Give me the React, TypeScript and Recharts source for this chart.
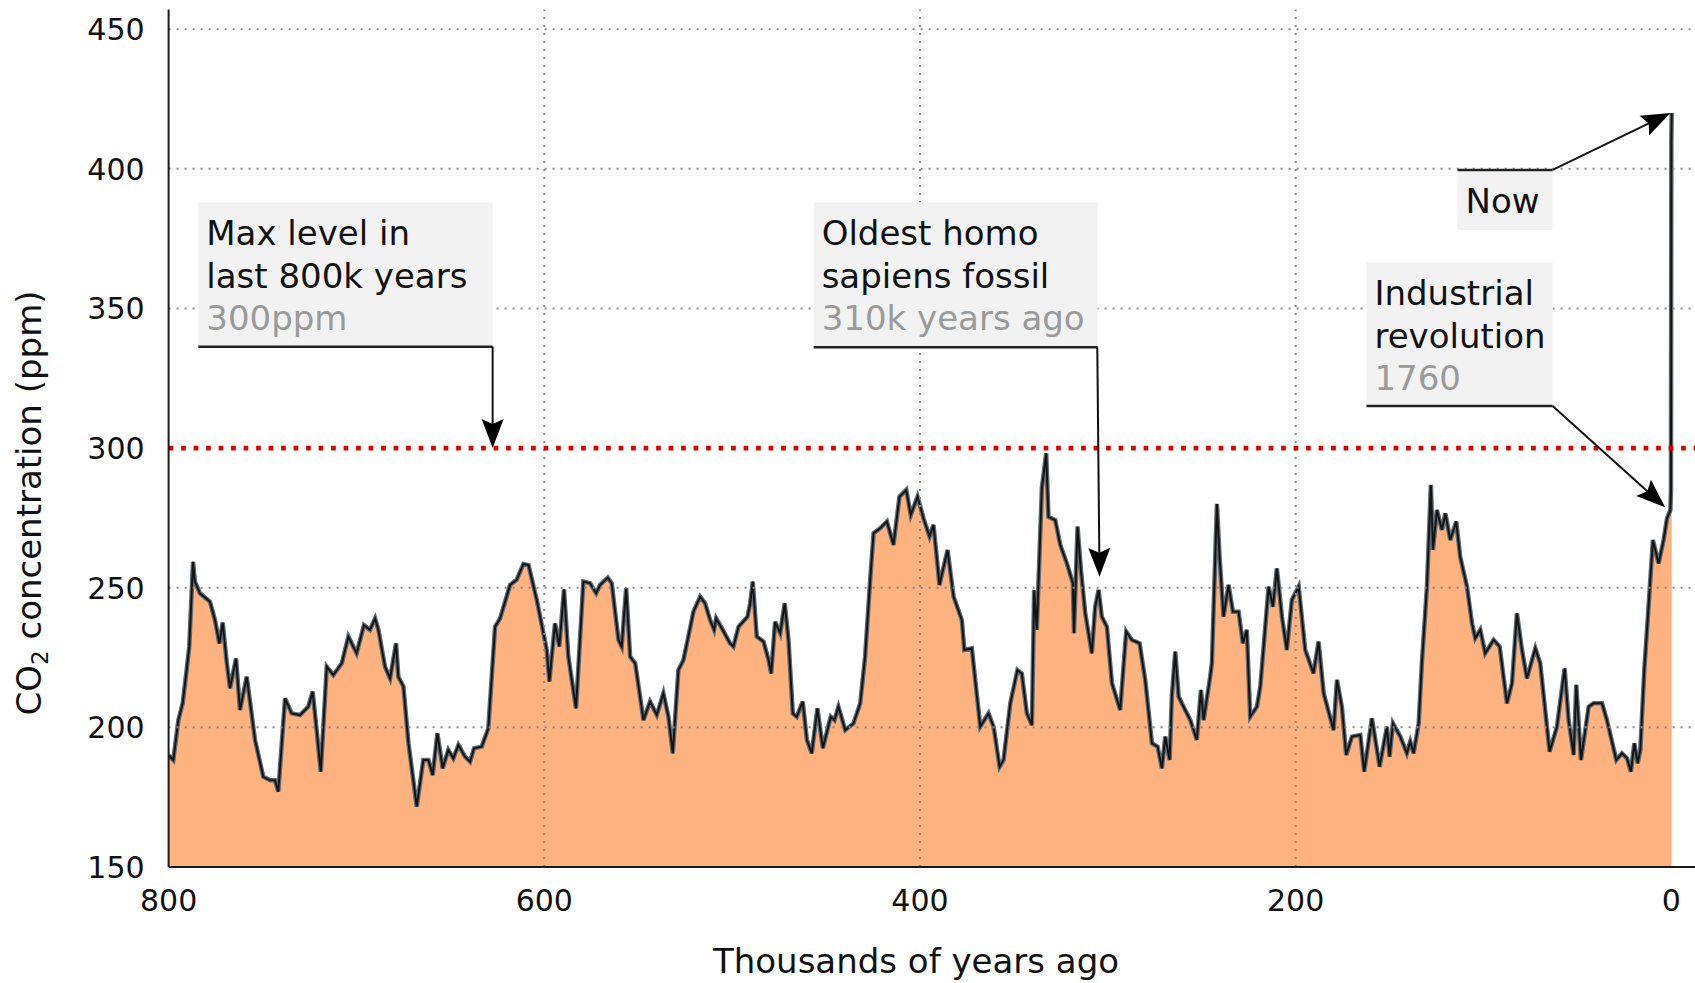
import React from 'react';
import { ComposedChart, Area, Line, XAxis, YAxis, ReferenceLine } from 'recharts';

// thousands of years ago
const kyaValues = [
  800, 797.5, 794.8, 792.5, 790.4, 789, 787, 786, 783.3, 778, 775.3, 773, 771.2, 769, 767.3, 764.1, 762, 758.4, 754,
  749.6, 746, 743.4, 741.6, 738, 734.5, 730, 725.6, 723.3, 721.2, 719, 715.8, 712.3, 707.8, 704.3, 699.9, 696, 692.8,
  690.1, 688.3, 684.8, 682.1, 678.9, 677.7, 675, 672.3, 667.9, 664.4, 661.7, 659.4, 656.9, 654.1, 651.1, 648.4, 645.7,
  642.2, 639.5, 637.4, 633.3, 629.8, 626.2, 623.5, 618.2, 614.7, 611.1, 608.4, 604, 598.7, 597.3, 594.3, 592, 589.5,
  587.2, 583.1, 579.2, 575.6, 572.4, 570.3, 566.2, 564.1, 560.5, 558.8, 556.4, 554.3, 551.6, 547.2, 543.7, 540.1,
  536.6, 533.9, 531.6, 528.6, 525.9, 523.3, 520.6, 517, 514.4, 511.7, 509.6, 508.5, 505.5, 501.1, 499.3, 496.6, 491.8,
  490.4, 489, 486.9, 483.3, 480.6, 479.2, 477.1, 474.4, 472, 470, 467.7, 465.6, 462.4, 460.2, 457.6, 454.6, 451.7,
  447.5, 445.5, 443.4, 439.8, 435.4, 431.8, 429.2, 426.5, 424.7, 421.2, 417.6, 414.1, 410.9, 407.3, 404.9, 401.3,
  398.1, 394.9, 392.8, 389.6, 387.8, 385.3, 382.1, 377.7, 376.4, 372.4, 367.9, 363.5, 360.8, 357.6, 355.5, 351.9,
  348.1, 345.8, 343.1, 340.4, 339.2, 337.8, 335.1, 332.8, 331.6, 328, 325.3, 321.8, 318.6, 318, 316.1, 314.3, 312,
  308.5, 306.7, 304.9, 303.2, 300.5, 297.8, 293.4, 290.2, 287.2, 283.1, 280.1, 276.5, 273.5, 271.2, 269.4,
  267.1, 265.9, 264.1, 262.3, 259.7, 256.1, 252.6, 250.4, 249, 245.5, 244.6, 241.9, 240.5, 238.4, 235.7, 233.4,
  230.4, 228.1, 226, 224.2, 220.6, 218.8, 214.4, 212.1, 210, 207.3, 204.7, 202, 198.4, 194.9, 190.5, 187.8, 185.1,
  179.8, 178, 175.4, 173.1, 170, 165.6, 163.5, 159.4, 155.3, 151.4, 150, 148.2, 144.3, 140.8, 139, 137.2, 134.5,
  132.8, 130.1, 128, 126.9, 124.8, 122.1, 120.3, 117.7, 114.5, 112.4, 108.8, 106.1, 104.4, 101.7, 99.1, 94.6, 91.4,
  87.5, 84.8, 82.2, 79.5, 76.9, 72.4, 69.8, 64.8, 60.9, 56.8, 54.7, 52, 50.6, 48.1, 44, 41.4, 36.9, 34.3, 29.3, 26.3,
  23.6, 21.5, 19.7, 17.9, 16.5, 14.4, 12.6, 9.8, 6.8, 4.1, 2.3, 0.5, 0.2, 0, -0.2,
];

// CO2 concentration (ppm)
const ppmValues = [
  190, 188.3, 202.6, 208.6, 220.5, 228.9, 259.3, 252.2, 248, 245, 238.4, 230, 237.5, 222.9, 214, 224.7, 206.2, 218.1, 195.5,
  182.3, 181.1, 181.1, 177, 210.4, 205, 204.4, 207.4, 212.8, 199, 184.1, 221.7, 218.7, 222.9, 232.5, 226.5, 236.6, 234.9,
  239, 234.9, 221.7, 217.5, 230.1, 218.1, 214.6, 194.3, 171.6, 188.3, 188.3, 182.9, 197.9, 185.3, 191.9, 188.9, 193.7,
  189.5, 187.7, 192.5, 193.1, 199.6, 236, 239, 251, 252.8, 258.5, 258.1, 245.6, 227.7, 216.4, 237.2, 228.9, 249.4,
  225.3, 206.8, 252.2, 251.6, 248, 251, 253.6, 251.6, 231.3, 228.9, 249.8, 225.3, 222.9, 202.6, 209.2, 204.4,
  212.2, 203.8, 190.7, 220.5, 224.1, 232.5, 241.4, 246.8, 244.4, 238.4, 234.9, 239, 235.5, 230.1, 228.9, 236, 239.6,
  244.4, 252.2, 232.5, 230.7, 224.1, 219.3, 237.8, 233.7, 244.4, 231.3, 205, 203.8, 209.2, 195.5, 190.7, 206.8, 192.5,
  203.8, 202.6, 207.4, 199, 201.4, 208.6, 225.3, 252.8, 269.5, 271.3, 273.7, 265.3, 282.6, 285, 276, 282.6,
  274.8, 268.3, 272.5, 251, 256.3, 263.5, 246.8, 238.4, 227.7, 228.3, 200.2, 205, 200.2, 185.9, 188.3, 208.6,
  220.5, 219.3, 205, 200.8, 249.2, 234.9, 285.6, 298.1, 275.4, 274.2, 265.3, 258.7, 251.6, 233.7, 271.9, 256.3, 240.8,
  226.5, 243.2, 249.2, 239.6, 236, 215.8, 206.2, 234.3, 231.3, 230.1, 217, 194.3, 193.1, 185.3, 196.7,
  188.3, 211, 227.1, 211, 207.4, 202.6, 195.5, 213.4, 202.6, 218.1, 222.9, 280, 261.1, 239.6, 251, 241.4,
  241.4, 230.1, 234.9, 203.8, 207.4, 214.6, 250.4, 243.2, 256.9, 239.6, 227.7, 245.6, 250.4, 227.7, 219.3, 230.7, 212.2,
  199, 217, 207.4, 190.1, 196.7, 197.3, 184.1, 203.2, 185.9, 200.2, 189.5, 201.4, 196.7, 190.7, 194.9, 190.7, 201.4,
  222.9, 250.4, 286.8, 263.5, 277.8, 270.7, 276.6, 267.1, 273.7, 261.1, 250.4, 237.2, 231.9, 234.9, 226.5, 231.3, 228.9,
  208.6, 215.8, 240.8, 227.7, 217.5, 228.3, 222.9, 191.3, 200.2, 221.1, 202.6, 190.1, 215.2, 188.3, 207.4, 208.6, 208.6, 202.6, 188.3, 190.7,
  188.9, 184.1, 194.3, 187.1, 191.9, 220.5, 238.4, 267.1, 258.7, 267.1, 274.8, 277.8, 285, 410, 420,
];

const xTicks = [800, 600, 400, 200, 0];
const yTicks = [150, 200, 250, 300, 350, 400, 450];
const horizontalGrid = [200, 250, 350, 400, 450];
const verticalGrid = [600, 400, 200];
const maxLevel = 300;

// annotation boxes: [left kya, top ppm, right kya, bottom ppm]
const annotationLines = [
  ['Max level in', 'last 800k years'],
  ['Oldest homo', 'sapiens fossil'],
  ['Now'],
  ['Industrial', 'revolution'],
];
const annotationSubs = ['300ppm', '310k years ago', '', '1760'];
const annotationBoxes = [
  [784.2, 388, 627.5, 336.3],
  [456.6, 388, 305.4, 336.1],
  [113.8, 399.6, 63.2, 378.1],
  [162.3, 366.5, 63.2, 315.1],
];
// rule under (or over) each box: [x1, y1, x2, y2]
const annotationRules = [
  [784.2, 336.3, 627.5, 336.3],
  [456.6, 336.1, 305.4, 336.1],
  [113.8, 399.6, 63.2, 399.6],
  [162.3, 315.1, 63.2, 315.1],
];
// arrows: [fromX, fromY, toX, toY]
const annotationArrows = [
  [627.5, 336.3, 627.5, 300],
  [305.6, 336.1, 304.4, 253.9],
  [63.2, 399.6, 0.5, 420],
  [63.2, 315.1, 3.3, 278.8],
];

const data = kyaValues.map((k, i) => ({ kya: k, ppm: ppmValues[i] }));

const FONT = '"DejaVu Sans", "Liberation Sans", sans-serif';

const XTick = (props: any) => {
  const { x, y, payload } = props;
  return (
    <text x={x} y={y + 44} textAnchor="middle" fontSize={30} fontFamily={FONT} fill="#111">
      {payload.value}
    </text>
  );
};

const YTick = (props: any) => {
  const { x, y, payload } = props;
  return (
    <text x={x - 24} y={y + 11} textAnchor="end" fontSize={30} fontFamily={FONT} fill="#111">
      {payload.value}
    </text>
  );
};

const XTitle = (props: any) => {
  const vb = props.viewBox || { x: 168.6, y: 867, width: 1526.4 };
  return (
    <text x={vb.x + 747.4} y={vb.y + 106} textAnchor="middle" fontSize={34} fontFamily={FONT} fill="#111">
      Thousands of years ago
    </text>
  );
};

const YTitle = (props: any) => {
  const vb = props.viewBox || { x: 108.6, y: 9.6, width: 60, height: 857.4 };
  const cx = vb.x + vb.width - 127.6;
  const cy = vb.y + vb.height / 2 + 64.7;
  return (
    <text
      x={cx}
      y={cy}
      textAnchor="middle"
      fontSize={34}
      fontFamily={FONT}
      fill="#111"
      transform={`rotate(-90, ${cx}, ${cy})`}
    >
      CO
      <tspan fontSize={23} dy={7}>2</tspan>
      <tspan dy={-7}> concentration (ppm)</tspan>
    </text>
  );
};

const makeBoxShape = (idx: number) => (p: any) => {
  const left = Math.min(p.x1, p.x2);
  const top = Math.min(p.y1, p.y2);
  const w = Math.abs(p.x2 - p.x1);
  const h = Math.abs(p.y2 - p.y1);
  const lines = annotationLines[idx];
  const sub = annotationSubs[idx];
  return (
    <g>
      <rect x={left} y={top} width={w} height={h} fill="#f2f2f2" />
      {lines.map((t, i) => (
        <text key={i} x={left + 8} y={top + 43 + i * 42.5} fontSize={34} fontFamily={FONT} fill="#111">
          {t}
        </text>
      ))}
      {sub ? (
        <text x={left + 8} y={top + 43 + lines.length * 42.5} fontSize={34} fontFamily={FONT} fill="#9a9a9a">
          {sub}
        </text>
      ) : null}
    </g>
  );
};

const arrowShape = (p: any) => {
  const { x1, y1, x2, y2 } = p;
  const dx = x2 - x1;
  const dy = y2 - y1;
  const len = Math.hypot(dx, dy) || 1;
  const ux = dx / len;
  const uy = dy / len;
  const L = 29;
  const W = 11;
  const notch = 5;
  const bx = x2 - ux * L;
  const by = y2 - uy * L;
  const nx = -uy;
  const ny = ux;
  const mx = x2 - ux * (L - notch);
  const my = y2 - uy * (L - notch);
  const pts = `${x2},${y2} ${bx + nx * W},${by + ny * W} ${mx},${my} ${bx - nx * W},${by - ny * W}`;
  return (
    <g>
      <line x1={x1} y1={y1} x2={mx} y2={my} stroke="#111" strokeWidth={2} />
      <polygon points={pts} fill="#000" />
    </g>
  );
};

export default function App() {
  return (
    <div style={{ position: 'absolute', left: 0, top: 0, width: 1695, height: 983, background: '#fff' }}>
      <ComposedChart
        width={1695}
        height={983}
        data={data}
        margin={{ top: 9.6, right: 0, bottom: 66, left: 108.6 }}
      >
        <XAxis
          dataKey="kya"
          type="number"
          domain={[-12.6, 800]}
          reversed
          allowDataOverflow
          ticks={xTicks}
          interval={0}
          tickLine={false}
          tickSize={0}
          tickMargin={0}
          height={50}
          axisLine={{ stroke: '#1a1a1a', strokeWidth: 2 }}
          tick={XTick}
          label={{ content: XTitle }}
        />
        <YAxis
          type="number"
          domain={[150, 457]}
          allowDataOverflow
          ticks={yTicks}
          interval={0}
          tickLine={false}
          tickSize={0}
          tickMargin={0}
          width={60}
          axisLine={{ stroke: '#1a1a1a', strokeWidth: 2 }}
          tick={YTick}
          label={{ content: YTitle }}
        />
        <Area
          type="linear"
          dataKey="ppm"
          fill="#fdb27f"
          fillOpacity={1}
          stroke="#5f6b75"
          strokeWidth={4.5}
          dot={false}
          activeDot={false}
          isAnimationActive={false}
        />
        <Line
          type="linear"
          dataKey="ppm"
          stroke="#141414"
          strokeWidth={2}
          dot={false}
          activeDot={false}
          isAnimationActive={false}
        />
        {horizontalGrid.map((v) => (
          <ReferenceLine key={`h${v}`} y={v} stroke="#888" strokeWidth={2} strokeDasharray="2 6" />
        ))}
        {verticalGrid.map((v) => (
          <ReferenceLine key={`v${v}`} x={v} stroke="#888" strokeWidth={2} strokeDasharray="2 6" />
        ))}
        <ReferenceLine y={maxLevel} stroke="#dd0000" strokeWidth={4.7} strokeDasharray="4.7 7.8" />
        {annotationBoxes.map((b, i) => (
          <ReferenceLine
            key={`box${i}`}
            ifOverflow="visible"
            segment={[{ x: b[0], y: b[1] }, { x: b[2], y: b[3] }]}
            shape={makeBoxShape(i)}
          />
        ))}
        {annotationRules.map((r, i) => (
          <ReferenceLine
            key={`rule${i}`}
            ifOverflow="visible"
            segment={[{ x: r[0], y: r[1] }, { x: r[2], y: r[3] }]}
            stroke="#222"
            strokeWidth={2.5}
          />
        ))}
        {annotationArrows.map((a, i) => (
          <ReferenceLine
            key={`arrow${i}`}
            ifOverflow="visible"
            segment={[{ x: a[0], y: a[1] }, { x: a[2], y: a[3] }]}
            shape={arrowShape}
          />
        ))}
      </ComposedChart>
    </div>
  );
}
